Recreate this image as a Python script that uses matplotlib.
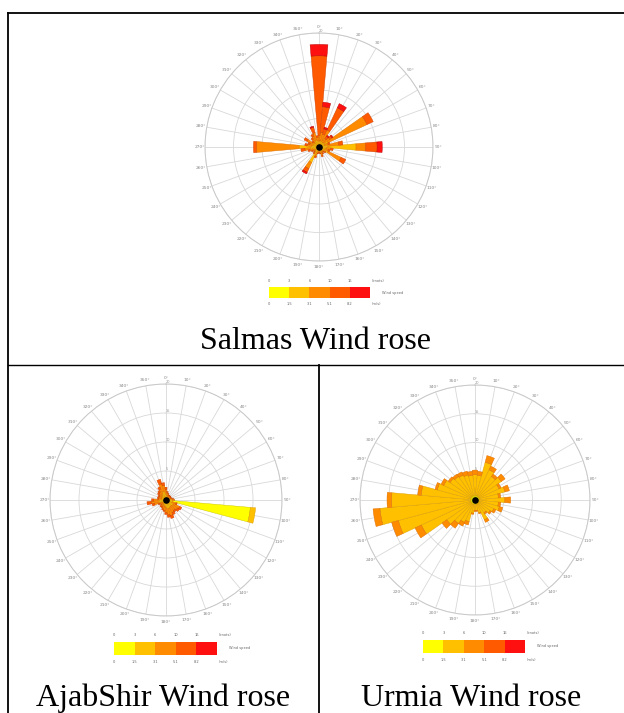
import numpy as np
from matplotlib import pyplot as plt
from matplotlib.lines import Line2D

W, H = 624, 713

directions = list(range(0, 360, 10))
speed_colors = ['#FFFF00', '#FFC000', '#FF8C00', '#FF5A00', '#FF1010']
speed_edges = ['#C8C000', '#D89A00', '#D86A00', '#C83C00', '#B00000']
knots_labels = ['0', '3', '6', '10', '16']
ms_labels = ['0', '1.5', '3.1', '5.1', '8.2']
ring_values = [5, 10, 15, 20]
ring_labels = ['5', '10', '15', '20']
captions = ['Salmas Wind rose', 'AjabShir Wind rose', 'Urmia Wind rose']

# frequency (%) per speed class, 36 directions starting at 0 deg
salmas_c1 = [0.3, 0.3, 0.3, 0.3, 0.3, 0.3, 0.3, 0.3, 0.3, 0.5, 0.3, 0.3,
             0.3, 0.3, 0.3, 0.3, 0.3, 0.3, 0.3, 0.3, 0.3, 0.5, 0.3, 0.3,
             0.3, 0.3, 0.3, 1.0, 0.3, 0.3, 0.3, 0.3, 0.3, 0.3, 0.3, 0.3]
salmas_c2 = [0.7, 0.8, 0.8, 1.0, 0.7, 0.8, 1.5, 0.7, 1.2, 6.0, 1.0, 0.8,
             1.5, 0.6, 0.5, 0.6, 0.8, 0.5, 0.4, 0.5, 0.8, 2.5, 0.6, 0.5,
             0.6, 0.8, 1.2, 2.5, 1.0, 0.8, 1.0, 0.6, 0.8, 1.0, 1.0, 0.8]
salmas_c3 = [1.0, 1.5, 1.2, 2.0, 0.8, 1.2, 7.5, 0.7, 2.0, 1.7, 0.8, 0.6,
             2.5, 0.4, 0.3, 0.4, 0.5, 0.3, 0.2, 0.3, 0.6, 1.2, 0.4, 0.3,
             0.4, 0.6, 1.0, 7.5, 0.8, 0.6, 1.0, 0.4, 0.6, 0.8, 1.3, 0.6]
salmas_c4 = [14.0, 4.5, 1.0, 4.3, 0.5, 0.5, 1.2, 0.3, 0.7, 2.0, 0.4, 0.3,
             0.9, 0.2, 0.1, 0.1, 0.2, 0.1, 0.1, 0.1, 0.3, 0.7, 0.2, 0.1,
             0.2, 0.3, 0.7, 0.5, 0.4, 0.3, 0.6, 0.2, 0.3, 0.4, 1.0, 0.3]
salmas_c5 = [2.0, 0.8, 0.3, 0.8, 0.2, 0.2, 0.0, 0.0, 0.0, 0.9, 0.0, 0.0,
             0.0, 0.0, 0.0, 0.0, 0.0, 0.0, 0.0, 0.0, 0.0, 0.3, 0.0, 0.0,
             0.0, 0.0, 0.0, 0.0, 0.0, 0.0, 0.0, 0.0, 0.0, 0.0, 0.2, 0.0]

ajabshir_c1 = [0.2, 0.2, 0.2, 0.2, 0.2, 0.2, 0.2, 0.2, 0.3, 0.5, 14.6, 0.2,
               0.2, 0.2, 0.2, 0.2, 0.2, 0.2, 0.2, 0.2, 0.2, 0.2, 0.2, 0.2,
               0.2, 0.2, 0.2, 0.2, 0.2, 0.2, 0.2, 0.2, 0.2, 0.2, 0.2, 0.2]
ajabshir_c2 = [0.8, 0.6, 0.5, 0.4, 0.4, 0.4, 0.4, 0.4, 0.5, 0.6, 0.9, 0.9,
               1.3, 1.2, 1.1, 1.2, 1.4, 1.3, 1.1, 0.9, 0.8, 0.6, 0.6, 0.5,
               0.6, 1.0, 1.2, 1.0, 0.6, 0.6, 0.6, 0.7, 0.8, 1.0, 1.4, 1.2]
ajabshir_c3 = [0.8, 0.5, 0.4, 0.3, 0.3, 0.3, 0.3, 0.3, 0.4, 0.4, 0.0, 0.7,
               1.1, 1.0, 0.9, 1.0, 1.2, 1.1, 0.9, 0.7, 0.6, 0.5, 0.5, 0.4,
               0.5, 0.9, 1.2, 0.9, 0.5, 0.5, 0.5, 0.6, 0.7, 0.9, 1.3, 1.1]
ajabshir_c4 = [0.4, 0.2, 0.1, 0.1, 0.1, 0.1, 0.1, 0.1, 0.1, 0.0, 0.0, 0.2,
               0.4, 0.4, 0.3, 0.4, 0.5, 0.4, 0.3, 0.2, 0.2, 0.2, 0.2, 0.1,
               0.2, 0.4, 0.7, 0.4, 0.2, 0.2, 0.2, 0.3, 0.3, 0.4, 0.8, 0.5]
ajabshir_c5 = [0.0, 0.0, 0.0, 0.0, 0.0, 0.0, 0.0, 0.0, 0.0, 0.0, 0.0, 0.0,
               0.0, 0.0, 0.0, 0.0, 0.0, 0.0, 0.0, 0.0, 0.0, 0.0, 0.0, 0.0,
               0.0, 0.0, 0.0, 0.0, 0.0, 0.0, 0.0, 0.0, 0.0, 0.0, 0.0, 0.0]

urmia_c1 = [0.8, 0.8, 0.8, 0.8, 0.8, 0.8, 0.8, 0.8, 0.8, 0.8, 0.8, 0.8,
            0.8, 0.8, 0.8, 0.8, 0.8, 0.7, 0.7, 0.8, 0.8, 0.8, 0.8, 0.8,
            0.8, 0.8, 0.8, 0.8, 0.8, 0.8, 0.8, 0.8, 0.8, 0.8, 0.8, 0.8]
urmia_c2 = [3.6, 3.5, 6.0, 5.0, 4.2, 4.8, 3.8, 4.6, 3.3, 4.4, 3.3, 3.6,
            2.8, 2.4, 1.9, 3.0, 1.5, 1.1, 1.1, 1.5, 3.1, 3.5, 4.2, 5.2,
            9.5, 13.0, 15.8, 13.7, 8.6, 6.0, 5.2, 4.5, 4.2, 4.0, 3.7, 3.5]
urmia_c3 = [0.8, 0.7, 1.2, 0.7, 0.5, 0.8, 0.4, 0.8, 0.4, 1.0, 0.4, 0.6,
            0.4, 0.3, 0.3, 0.5, 0.2, 0.2, 0.2, 0.2, 0.6, 0.7, 1.0, 1.0,
            1.2, 1.2, 1.2, 0.8, 0.6, 0.4, 0.5, 0.4, 0.5, 0.6, 0.7, 0.7]
urmia_c4 = [0.0, 0.0, 0.0, 0.0, 0.0, 0.0, 0.0, 0.0, 0.0, 0.0, 0.0, 0.0,
            0.0, 0.0, 0.0, 0.0, 0.0, 0.0, 0.0, 0.0, 0.0, 0.0, 0.0, 0.0,
            0.0, 0.0, 0.0, 0.0, 0.0, 0.0, 0.0, 0.0, 0.0, 0.0, 0.0, 0.0]
urmia_c5 = [0.0, 0.0, 0.0, 0.0, 0.0, 0.0, 0.0, 0.0, 0.0, 0.0, 0.0, 0.0,
            0.0, 0.0, 0.0, 0.0, 0.0, 0.0, 0.0, 0.0, 0.0, 0.0, 0.0, 0.0,
            0.0, 0.0, 0.0, 0.0, 0.0, 0.0, 0.0, 0.0, 0.0, 0.0, 0.0, 0.0]

fig = plt.figure(figsize=(W / 100, H / 100), dpi=100)


def px_rect(x0, y0, w, h):
    # pixel box (top-left origin) -> figure fraction
    return [x0 / W, 1 - (y0 + h) / H, w / W, h / H]


def draw_rose(cx, cy, r, classes):
    ax = fig.add_axes(px_rect(cx - r, cy - r, 2 * r, 2 * r), projection='polar')
    ax.set_theta_zero_location('N')
    ax.set_theta_direction(-1)
    theta = np.deg2rad(directions)
    bottom = np.zeros(len(directions))
    for vals, col, edge in zip(classes, speed_colors, speed_edges):
        vals = np.array(vals)
        keep = vals > 0
        ax.bar(theta[keep], vals[keep], width=np.deg2rad(10), bottom=bottom[keep],
               color=col, edgecolor=edge, linewidth=0.3, zorder=2)
        bottom += vals
    ax.set_ylim(0, 20)
    ax.set_yticks(ring_values)
    ax.set_yticklabels(ring_labels, fontsize=2.5, color='#999999')
    ax.set_rlabel_position(0)
    ax.set_thetagrids(directions, labels=[f'{d}°' for d in directions])
    ax.tick_params(axis='x', labelsize=3.2, labelcolor='#888888', pad=-3, length=0)
    ax.grid(color='#d8d8d8', linewidth=0.6)
    ax.spines['polar'].set_color('#c8c8c8')
    ax.spines['polar'].set_linewidth(0.7)
    ax.scatter([0], [0], s=14, c='black', zorder=5)


def draw_legend(x0, y0, w, h):
    lax = fig.add_axes(px_rect(x0, y0, w, h))
    lax.bar(range(5), [1] * 5, width=1, align='edge', color=speed_colors)
    lax.set_xlim(0, 5)
    lax.set_ylim(0, 1)
    lax.axis('off')
    for i, (k, m) in enumerate(zip(knots_labels, ms_labels)):
        lax.text(i, 1.35, k, fontsize=2.6, color='#666666', ha='center', va='bottom')
        lax.text(i, -0.35, m, fontsize=2.6, color='#666666', ha='center', va='top')
    lax.text(5.1, 1.35, '(knots)', fontsize=2.6, color='#666666', ha='left', va='bottom')
    lax.text(5.1, -0.35, '(m/s)', fontsize=2.6, color='#666666', ha='left', va='top')
    lax.text(5.6, 0.5, 'Wind speed', fontsize=2.6, color='#666666', ha='left', va='center')


draw_rose(319, 147, 114,
          [salmas_c1, salmas_c2, salmas_c3, salmas_c4, salmas_c5])
draw_rose(166, 500, 116,
          [ajabshir_c1, ajabshir_c2, ajabshir_c3, ajabshir_c4, ajabshir_c5])
draw_rose(475, 500, 115,
          [urmia_c1, urmia_c2, urmia_c3, urmia_c4, urmia_c5])

draw_legend(269, 287, 101, 11)
draw_legend(114, 642, 103, 13)
draw_legend(423, 640, 102, 13)

# table borders
border = dict(transform=fig.transFigure, color='black')
fig.add_artist(Line2D([8 / W, 1], [1 - 13 / H, 1 - 13 / H], lw=1.3, **border))
fig.add_artist(Line2D([7.5 / W, 7.5 / W], [1 - 13 / H, 0], lw=1.3, **border))
fig.add_artist(Line2D([8 / W, 1], [1 - 365 / H, 1 - 365 / H], lw=1.0, **border))
fig.add_artist(Line2D([318.5 / W, 318.5 / W], [1 - 365 / H, 0], lw=1.3, **border))

cap_font = dict(family=['Liberation Serif'], fontsize=23, ha='center', va='baseline')
fig.text(316 / W, 1 - 349 / H, captions[0], **cap_font)
fig.text(163 / W, 1 - 706 / H, captions[1], **cap_font)
fig.text(471 / W, 1 - 706 / H, captions[2], **cap_font)

fig.savefig('out.png', dpi=100)
